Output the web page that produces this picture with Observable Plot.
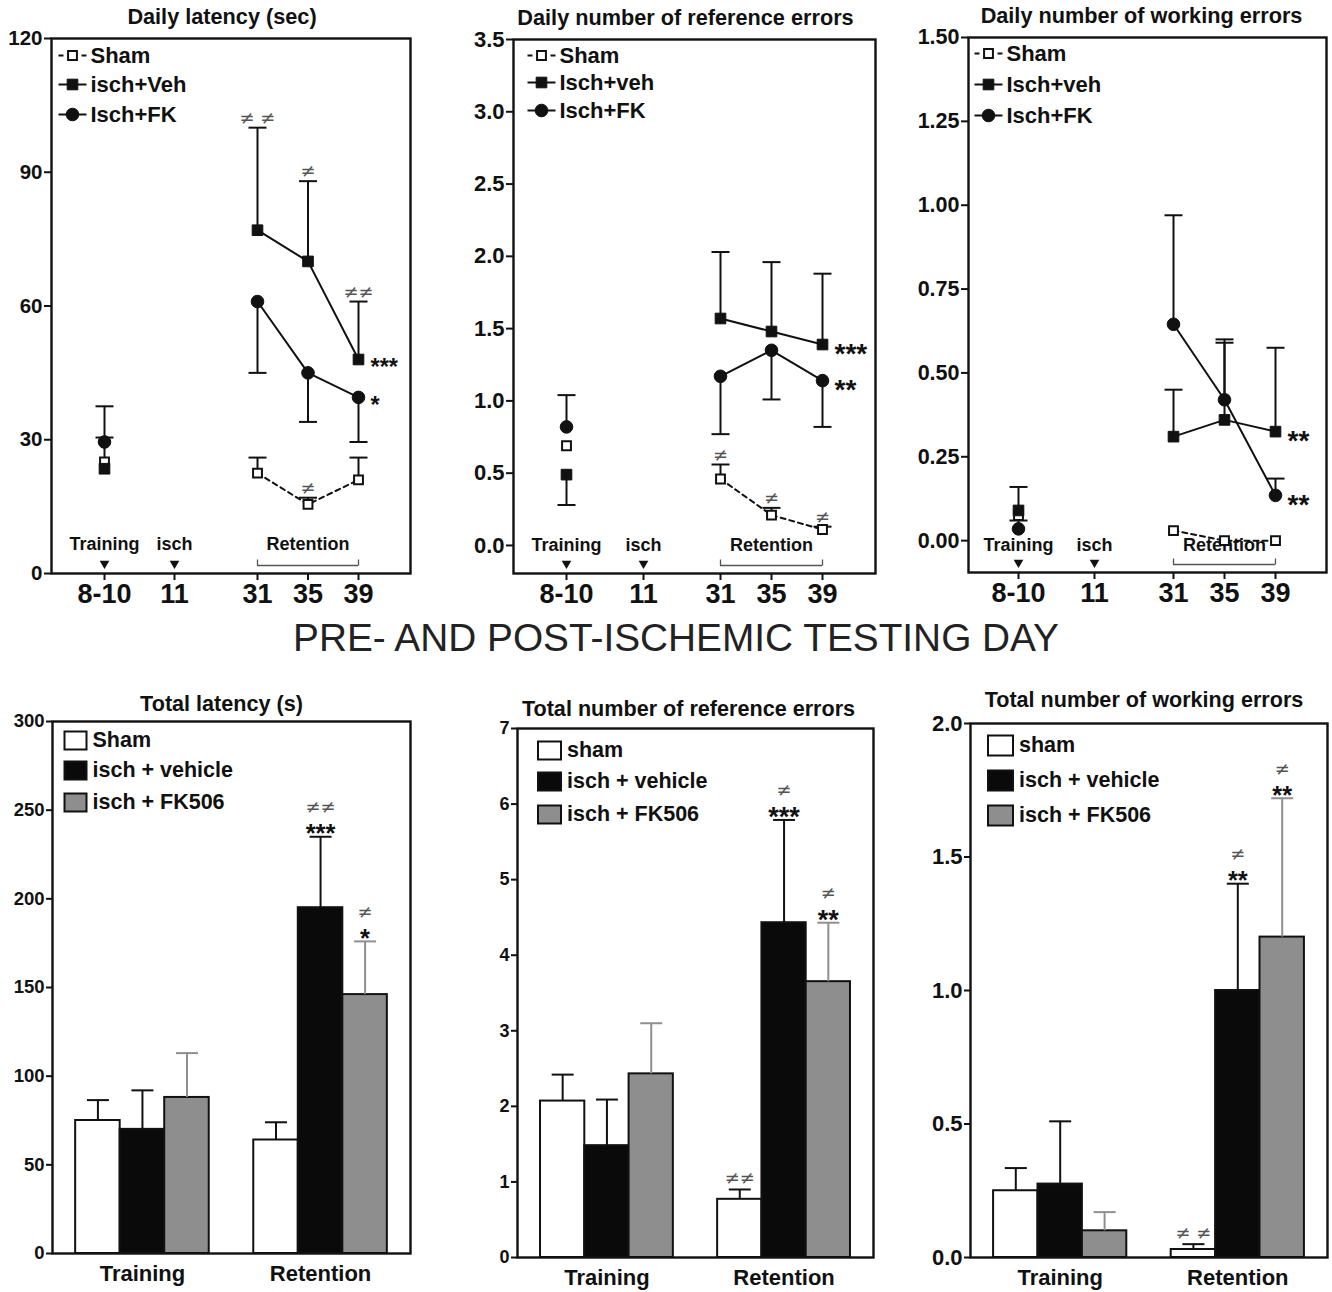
<!DOCTYPE html>
<html>
<head>
<meta charset="utf-8">
<script src="https://cdn.jsdelivr.net/npm/d3@7"></script>
<script src="https://cdn.jsdelivr.net/npm/@observablehq/plot@0.6"></script>
<style>
  html, body { margin: 0; padding: 0; background: #fff; }
  #root { position: relative; width: 1332px; height: 1292px; background: #fff; overflow: hidden; }
  .panel { position: absolute; }
  .panel svg { overflow: visible; }
  #bigtitle { position: absolute; left: 10px; top: 619px; width: 1332px; text-align: center;
    font-family: "Liberation Sans", Arial, Helvetica, sans-serif; font-size: 38.8px; line-height: 38px; color: #222; }
</style>
</head>
<body>
<div id="root"><div id="bigtitle">PRE- AND POST-ISCHEMIC TESTING DAY</div></div>
<script>
// ---------------- shared categories ----------------
const dayValues = [9, 11, 31, 35, 39];
const dayLabels = ["8-10", "11", "31", "35", "39"];
const pointDays = [9, 31, 35, 39];
const phaseLabels = ["Training", "isch", "Retention"];
const phaseDays = [9, 11, 35];
const arrowDays = [9, 11];
const retentionSpan = [31, 39];

// ---------------- Daily latency (sec) ----------------
const latLegend = ["Sham", "isch+Veh", "Isch+FK"];
const latSham = [25, 22.5, 15.5, 21];
const latShamErr = [null, 26, 17, 26];
const latVeh = [23.5, 77, 70, 48];
const latVehErr = [30.5, 100, 88, 61];
const latFK = [29.5, 61, 45, 39.5];
const latFKErr = [37.5, 45, 34, 29.5];
const latTicks = [0, 30, 60, 90, 120];
const latNoteDays = [31, 35, 39, 35, 39, 39];
const latNoteValues = [100, 88, 61, 17, 48, 39.5];
const latNoteTexts = ["≠ ≠", "≠", "≠≠", "≠", "***", "*"];
const latNoteSides = ["above", "above", "above", "above", "right", "right"];

// ---------------- Daily number of reference errors ----------------
const refLegend = ["Sham", "Isch+veh", "Isch+FK"];
const refSham = [0.69, 0.46, 0.21, 0.11];
const refShamErr = [null, 0.56, 0.26, 0.13];
const refVeh = [0.49, 1.57, 1.48, 1.39];
const refVehErr = [0.28, 2.03, 1.96, 1.88];
const refFK = [0.82, 1.17, 1.35, 1.14];
const refFKErr = [1.04, 0.77, 1.01, 0.82];
const refTicks = [0, 0.5, 1, 1.5, 2, 2.5, 3, 3.5];
const refNoteDays = [31, 35, 39, 39, 39];
const refNoteValues = [0.56, 0.26, 0.13, 1.39, 1.14];
const refNoteTexts = ["≠", "≠", "≠", "***", "**"];
const refNoteSides = ["above", "above", "above", "right", "right"];

// ---------------- Daily number of working errors ----------------
const wrkLegend = ["Sham", "Isch+veh", "Isch+FK"];
const wrkSham = [0.075, 0.03, 0.0, 0.0];
const wrkShamErr = [null, null, null, null];
const wrkVeh = [0.09, 0.31, 0.36, 0.325];
const wrkVehErr = [0.16, 0.45, 0.60, 0.575];
const wrkFK = [0.035, 0.645, 0.42, 0.135];
const wrkFKErr = [0.06, 0.97, 0.59, 0.185];
const wrkTicks = [0, 0.25, 0.5, 0.75, 1, 1.25, 1.5];
const wrkNoteDays = [39, 39];
const wrkNoteValues = [0.325, 0.135];
const wrkNoteTexts = ["**", "**"];
const wrkNoteSides = ["right", "right"];

// ---------------- Totals (bars) ----------------
const barGroups = ["Training", "Retention"];

const totLatLegend = ["Sham", "isch + vehicle", "isch + FK506"];
const totLatMean = [75, 70, 88, 64, 195, 146];
const totLatErr = [86.5, 92, 113, 74, 235, 176];
const totLatNe = ["", "", "", "", "≠≠", "≠"];
const totLatStars = ["", "", "", "", "***", "*"];
const totLatTicks = [0, 50, 100, 150, 200, 250, 300];

const totRefLegend = ["sham", "isch + vehicle", "isch + FK506"];
const totRefMean = [2.07, 1.48, 2.43, 0.77, 4.43, 3.65];
const totRefErr = [2.42, 2.09, 3.10, 0.90, 5.79, 4.43];
const totRefNe = ["", "", "", "≠≠", "≠", "≠"];
const totRefStars = ["", "", "", "", "***", "**"];
const totRefTicks = [0, 1, 2, 3, 4, 5, 6, 7];

const totWrkLegend = ["sham", "isch + vehicle", "isch + FK506"];
const totWrkMean = [0.25, 0.275, 0.10, 0.03, 1.00, 1.20];
const totWrkErr = [0.335, 0.51, 0.17, 0.05, 1.40, 1.72];
const totWrkNe = ["", "", "", "≠ ≠", "≠", "≠"];
const totWrkStars = ["", "", "", "", "**", "**"];
const totWrkTicks = [0, 0.5, 1, 1.5, 2];

// ---------------- styles ----------------
const FONT = "'Liberation Sans', Arial, Helvetica, sans-serif";
const NEQ_FONT = "'DejaVu Sans', sans-serif";
const NEQ_SIZE = 18;
const INK = "#111";
const NEQ = "#555";
const BAR_FILL = ["#ffffff", "#0a0a0a", "#8e8e8e"];
const ERR_STROKE = [INK, INK, "#8f8f8f"];

const hSeg = w => ({draw(c) { c.moveTo(-w, 0); c.lineTo(w, 0); }});
const dashSeg = {draw(c) { c.moveTo(-14, 0); c.lineTo(-9, 0); c.moveTo(9, 0); c.lineTo(14, 0); }};
const vTick = {draw(c) { c.moveTo(0, 0); c.lineTo(0, -6); }};
const boxSym = (w, h) => ({draw(c) { c.rect(-w / 2, -h / 2, w, h); }});

const markerStyle = [
  {symbol: "square", r: 5.0, fill: "#fff", stroke: INK, strokeWidth: 2},
  {symbol: "square", r: 6.0, fill: INK, stroke: INK, strokeWidth: 1},
  {symbol: "circle", r: 6.3, fill: INK, stroke: INK, strokeWidth: 1}
];

function place(el, left, top) {
  const d = document.createElement("div");
  d.className = "panel";
  d.style.left = left + "px";
  d.style.top = top + "px";
  d.appendChild(el);
  document.getElementById("root").appendChild(d);
}

function linePanel(o) {
  const rows = [];
  o.series.forEach((s, k) => pointDays.forEach((d, i) =>
    rows.push({day: d, value: s.values[i], err: s.errs[i], k})));
  const notes = o.noteDays.map((d, i) => ({day: d, value: o.noteValues[i], text: o.noteTexts[i], side: o.noteSides[i]}));
  const y0 = o.yDomain[0];
  const marks = [
    Plot.axisY({ticks: o.yTicks, tickFormat: o.yFormat, tickSize: 7, tickPadding: 2, fontSize: o.yFont, fontWeight: "bold", strokeWidth: 2, label: null}),
    Plot.axisX({ticks: dayValues, tickFormat: d => dayLabels[dayValues.indexOf(d)], tickSize: 7, tickPadding: 3, fontSize: 27, fontWeight: "bold", strokeWidth: 2, label: null}),
    Plot.text([o.title], {text: d => d, frameAnchor: "top", dx: o.titleDx, dy: -21, fontSize: 21.7, fontWeight: "bold", lineAnchor: "middle"}),
    // phase labels inside the frame
    Plot.text(phaseLabels, {x: (d, i) => phaseDays[i], text: d => d, frameAnchor: "bottom", dy: o.phaseDy, fontSize: 18, fontWeight: "bold"}),
    Plot.dot(arrowDays, {x: d => d, frameAnchor: "bottom", dy: -10, symbol: "triangle", rotate: 180, r: 3.6, fill: INK, stroke: "none"}),
    Plot.ruleY([y0], {x1: () => retentionSpan[0], x2: () => retentionSpan[1], dy: -8, stroke: "#555", strokeWidth: 1.3}),
    Plot.dot(retentionSpan, {x: d => d, frameAnchor: "bottom", dy: -8, symbol: vTick, stroke: "#555", strokeWidth: 1.3, fill: "none"})
  ];
  // connecting lines (retention only)
  [0, 1, 2].forEach(k => marks.push(Plot.line(rows.filter(r => r.k === k && r.day >= 31),
    {x: "day", y: "value", stroke: INK, strokeWidth: 2, strokeDasharray: k === 0 ? "5,4" : null})));
  // error bars
  const errRows = rows.filter(r => r.err != null);
  marks.push(Plot.ruleX(errRows, {x: "day", y1: "value", y2: "err", stroke: INK, strokeWidth: 2}));
  marks.push(Plot.dot(errRows, {x: "day", y: "err", symbol: hSeg(9), stroke: INK, strokeWidth: 2, fill: "none"}));
  // markers
  [0, 1, 2].forEach(k => marks.push(Plot.dot(rows.filter(r => r.k === k), {x: "day", y: "value", ...markerStyle[k]})));
  // annotations
  marks.push(Plot.text(notes.filter(n => n.side === "above"), {x: "day", y: "value", text: "text", lineAnchor: "bottom", dy: -4, fill: NEQ, fontSize: NEQ_SIZE, fontFamily: NEQ_FONT}));
  marks.push(Plot.text(notes.filter(n => n.side === "right"), {x: "day", y: "value", text: "text", textAnchor: "start", dx: 12, dy: 0.26 * o.starFont + 2, fill: INK, fontSize: o.starFont, fontWeight: "bold"}));
  // legend
  o.legend.forEach((lab, k) => {
    const dy = o.legendDy[k];
    marks.push(Plot.dot([0], {frameAnchor: "top-left", dx: o.legendDx, dy, symbol: k === 0 ? dashSeg : hSeg(14), stroke: INK, strokeWidth: 2, fill: "none"}));
    marks.push(Plot.dot([0], {frameAnchor: "top-left", dx: o.legendDx, dy, ...markerStyle[k]}));
    marks.push(Plot.text([lab], {frameAnchor: "top-left", dx: o.legendDx + 18, dy, text: d => d, textAnchor: "start", lineAnchor: "middle", fontSize: 22, fontWeight: "bold"}));
  });
  marks.push(Plot.frame({stroke: INK, strokeWidth: 2.4}));
  const chart = Plot.plot({
    width: o.width, height: o.height,
    marginTop: o.m[0], marginRight: o.m[1], marginBottom: o.m[2], marginLeft: o.m[3],
    style: {fontFamily: FONT, color: INK, background: "transparent", overflow: "visible"},
    x: {type: "linear", domain: o.xDomain, range: o.xRange},
    y: {domain: o.yDomain},
    marks
  });
  place(chart, o.left, o.top);
}

function barPanel(o) {
  const keys = [];
  const rows = [];
  barGroups.forEach((g, gi) => {
    if (gi) keys.push("gap");
    o.legend.forEach((lab, t) => {
      const i = gi * 3 + t;
      keys.push(g + "|" + t);
      rows.push({key: g + "|" + t, t, value: o.means[i], err: o.errs[i], ne: o.ne[i], stars: o.stars[i]});
    });
  });
  const marks = [
    Plot.axisY({ticks: o.yTicks, tickFormat: o.yFormat, tickSize: 6, tickPadding: 2, fontSize: o.yFont, fontWeight: "bold", strokeWidth: 2, label: null}),
    Plot.axisX({ticks: barGroups.map(g => g + "|1"), tickFormat: k => k.split("|")[0], tickSize: 0, tickPadding: 12, fontSize: 22, fontWeight: "bold", label: null}),
    Plot.text([o.title], {text: d => d, frameAnchor: "top", dx: o.titleDx, dy: o.titleDy, fontSize: 21.6, fontWeight: "bold", lineAnchor: "middle"}),
    Plot.barY(rows, {x: "key", y: "value", fill: d => BAR_FILL[d.t], stroke: INK, strokeWidth: 2}),
    Plot.ruleX(rows, {x: "key", y1: "value", y2: "err", stroke: d => ERR_STROKE[d.t], strokeWidth: 2}),
    Plot.dot(rows, {x: "key", y: "err", symbol: hSeg(11), stroke: d => ERR_STROKE[d.t], strokeWidth: 2, fill: "none"}),
    Plot.text(rows.filter(r => r.stars), {x: "key", y: "err", text: "stars", lineAnchor: "bottom", dy: 0.58 * o.starFont - 9.5, fill: INK, fontSize: o.starFont, fontWeight: "bold"}),
    Plot.text(rows.filter(r => r.ne && r.stars), {x: "key", y: "err", text: "ne", lineAnchor: "bottom", dy: -23.5, fill: NEQ, fontSize: NEQ_SIZE, fontFamily: NEQ_FONT}),
    Plot.text(rows.filter(r => r.ne && !r.stars), {x: "key", y: "err", text: "ne", lineAnchor: "bottom", dy: -5, fill: NEQ, fontSize: NEQ_SIZE, fontFamily: NEQ_FONT})
  ];
  o.legend.forEach((lab, t) => {
    const dy = o.legendDy[t];
    marks.push(Plot.dot([0], {frameAnchor: "top-left", dx: o.legendDx, dy, symbol: boxSym(o.box[0], o.box[1]), fill: BAR_FILL[t], stroke: INK, strokeWidth: 2}));
    marks.push(Plot.text([lab], {frameAnchor: "top-left", dx: o.legendDx + o.box[0] / 2 + 6, dy, text: d => d, textAnchor: "start", lineAnchor: "middle", fontSize: 21.5, fontWeight: "bold"}));
  });
  marks.push(Plot.frame({stroke: INK, strokeWidth: 2.4}));
  const chart = Plot.plot({
    width: o.width, height: o.height,
    marginTop: o.m[0], marginRight: o.m[1], marginBottom: o.m[2], marginLeft: o.m[3],
    style: {fontFamily: FONT, color: INK, background: "transparent", overflow: "visible"},
    x: {type: "band", domain: keys, paddingInner: 0, paddingOuter: 0.52, round: false},
    y: {domain: [0, o.yTicks[o.yTicks.length - 1]]},
    marks
  });
  place(chart, o.left, o.top);
}

// ---------------- top row ----------------
linePanel({
  left: 0, top: 0, width: 445, height: 620, m: [38, 35, 47, 51],
  title: "Daily latency (sec)", titleDx: -9,
  xDomain: [7, 9, 11, 31, 39, 43], xRange: [51, 104, 174, 257, 358, 410],
  yDomain: [0, 120], yTicks: latTicks, yFormat: d3.format("d"), yFont: 20.5,
  series: [{values: latSham, errs: latShamErr}, {values: latVeh, errs: latVehErr}, {values: latFK, errs: latFKErr}],
  noteDays: latNoteDays, noteValues: latNoteValues, noteTexts: latNoteTexts, noteSides: latNoteSides,
  legend: latLegend, legendDx: 21, legendDy: [17, 46, 76], phaseDy: -24, starFont: 23.5
});
linePanel({
  left: 445, top: 0, width: 445, height: 620, m: [39, 15, 47, 68],
  title: "Daily number of reference errors", titleDx: -9,
  xDomain: [7, 9, 11, 31, 39, 43], xRange: [68, 121, 198, 275, 377, 430],
  yDomain: [-0.194, 3.5], yTicks: refTicks, yFormat: d3.format(".1f"), yFont: 22,
  series: [{values: refSham, errs: refShamErr}, {values: refVeh, errs: refVehErr}, {values: refFK, errs: refFKErr}],
  noteDays: refNoteDays, noteValues: refNoteValues, noteTexts: refNoteTexts, noteSides: refNoteSides,
  legend: refLegend, legendDx: 28, legendDy: [16, 43, 71], phaseDy: -23, starFont: 28
});
linePanel({
  left: 890, top: 0, width: 442, height: 620, m: [37, 6, 48, 78],
  title: "Daily number of working errors", titleDx: -6,
  xDomain: [7, 9, 11, 31, 39, 43], xRange: [78, 128, 204, 283, 385, 436],
  yDomain: [-0.095, 1.5], yTicks: wrkTicks, yFormat: d3.format(".2f"), yFont: 21.5,
  series: [{values: wrkSham, errs: wrkShamErr}, {values: wrkVeh, errs: wrkVehErr}, {values: wrkFK, errs: wrkFKErr}],
  noteDays: wrkNoteDays, noteValues: wrkNoteValues, noteTexts: wrkNoteTexts, noteSides: wrkNoteSides,
  legend: wrkLegend, legendDx: 20, legendDy: [16, 47, 78], phaseDy: -22, starFont: 28
});

// ---------------- bottom row ----------------
barPanel({
  left: 0, top: 680, width: 445, height: 612, m: [41, 35, 39, 52],
  title: "Total latency (s)", titleDx: -10, titleDy: -17,
  legend: totLatLegend, means: totLatMean, errs: totLatErr, ne: totLatNe, stars: totLatStars,
  yTicks: totLatTicks, yFormat: d3.format("d"), yFont: 18.5,
  legendDx: 23, legendDy: [19, 49, 81], box: [22, 18], starFont: 25.5
});
barPanel({
  left: 445, top: 680, width: 445, height: 612, m: [48, 17, 35, 72],
  title: "Total number of reference errors", titleDx: -7, titleDy: -19,
  legend: totRefLegend, means: totRefMean, errs: totRefErr, ne: totRefNe, stars: totRefStars,
  yTicks: totRefTicks, yFormat: d3.format("d"), yFont: 18,
  legendDx: 32, legendDy: [22, 53, 86], box: [23, 18], starFont: 27
});
barPanel({
  left: 890, top: 680, width: 442, height: 612, m: [43, 5, 35, 80],
  title: "Total number of working errors", titleDx: -5, titleDy: -23,
  legend: totWrkLegend, means: totWrkMean, errs: totWrkErr, ne: totWrkNe, stars: totWrkStars,
  yTicks: totWrkTicks, yFormat: d3.format(".1f"), yFont: 22,
  legendDx: 30, legendDy: [22, 57, 92], box: [25, 20], starFont: 25.5
});
</script>
</body>
</html>
